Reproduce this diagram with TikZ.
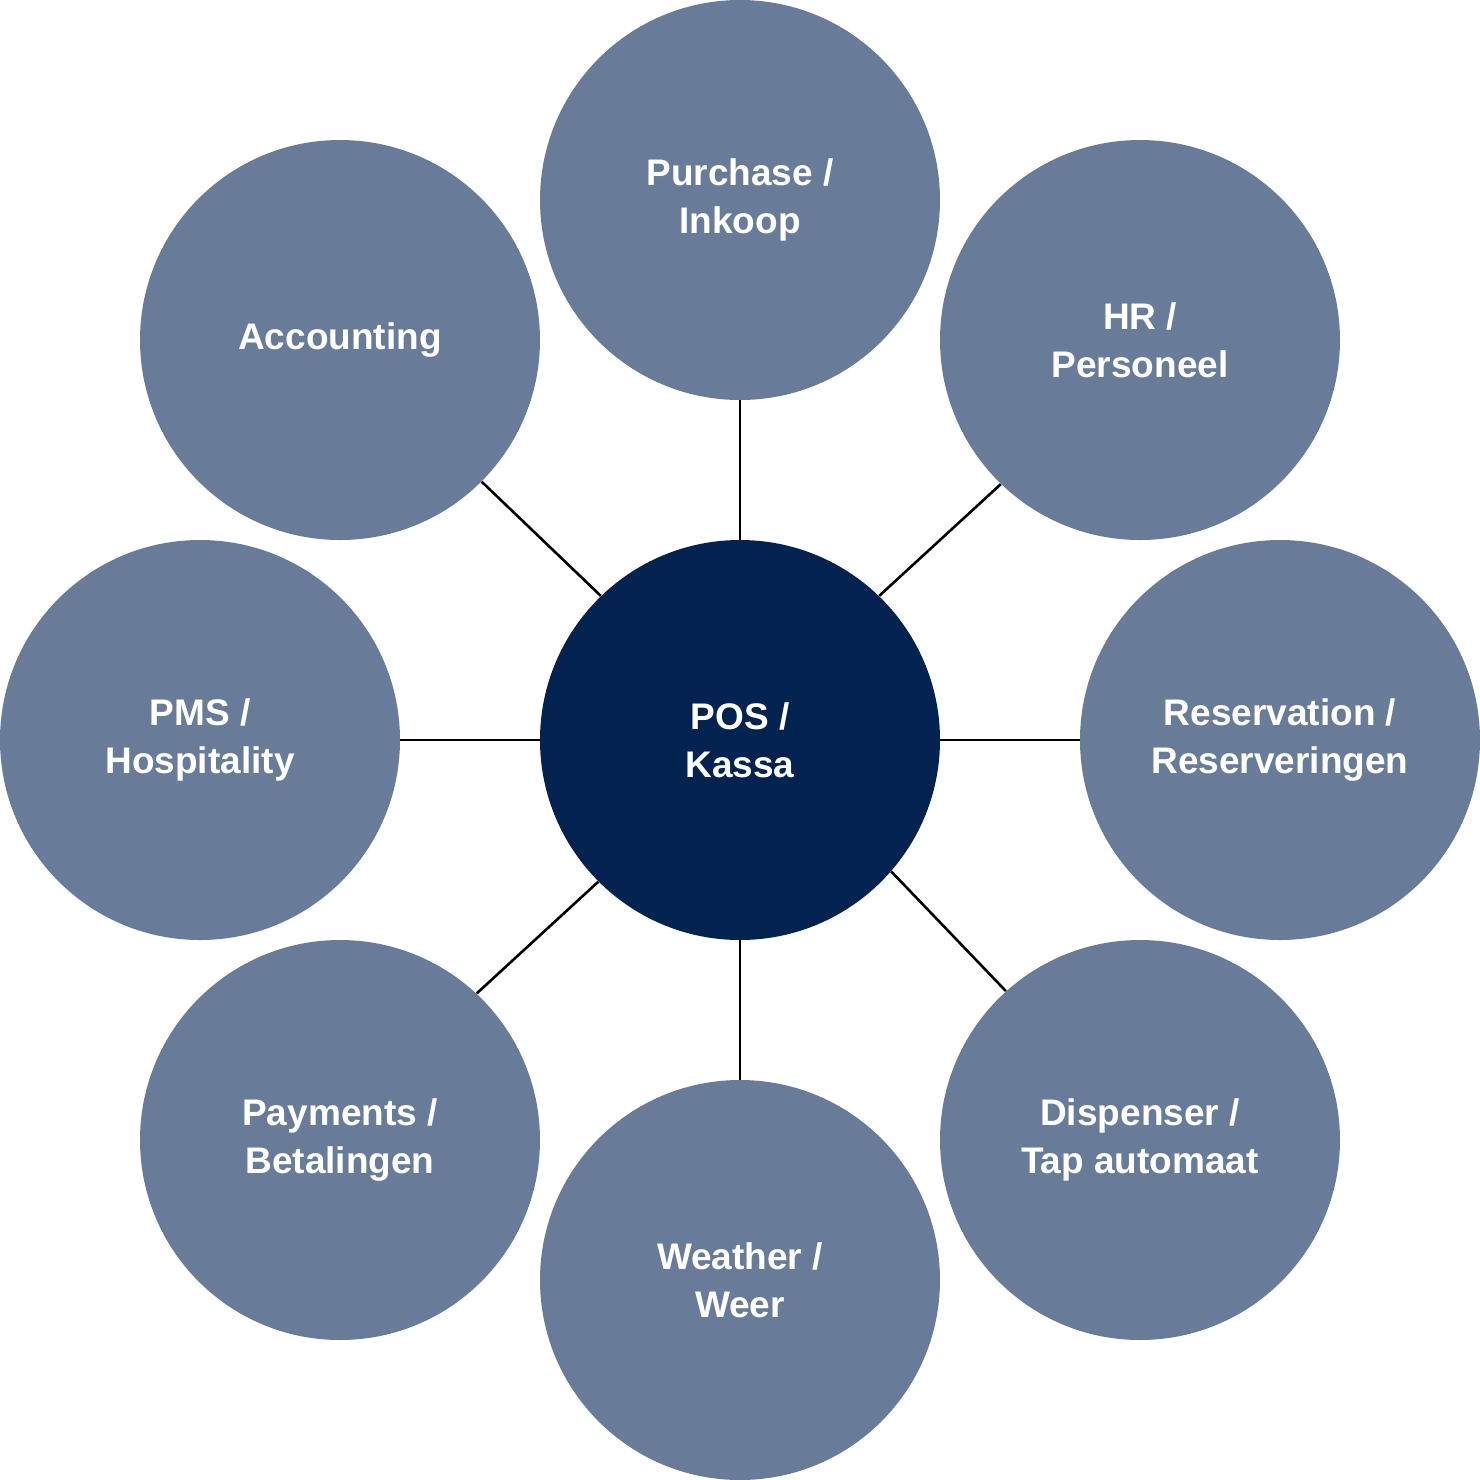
\documentclass[tikz,border=0pt]{standalone}
\usepackage{fontspec}
\setmainfont{Liberation Sans}
\definecolor{outerc}{HTML}{687B98}
\definecolor{innerc}{HTML}{02234F}
\begin{document}
\begin{tikzpicture}[x=0.5pt,y=-0.5pt,
  bubble/.style={circle,fill=outerc,minimum size=200pt,inner sep=0pt,text=white,
    font=\fontsize{18.5pt}{24pt}\selectfont\bfseries,align=center},
  hub/.style={bubble,fill=innerc},
  link/.style={draw=black,line width=1.3pt}]
\useasboundingbox (0,0) rectangle (1480,1480);
\node[hub] (pos) at (740,740) {POS /\\Kassa};
\node[bubble] (pur) at (740,200) {Purchase /\\Inkoop};
\node[bubble] (hr) at (1140,340) {HR /\\Personeel};
\node[bubble] (res) at (1280,740) {Reservation /\\Reserveringen};
\node[bubble] (dis) at (1140,1140) {Dispenser /\\Tap automaat};
\node[bubble] (wea) at (740,1280) {Weather /\\Weer};
\node[bubble] (pay) at (340,1140) {Payments /\\Betalingen};
\node[bubble] (pms) at (200,740) {PMS /\\Hospitality};
\node[bubble] (acc) at (340,340) {Accounting};
\draw[link] (pos.90) -- (pur.270);
\draw[link] (pos.46) -- (hr.226.5);
\draw[link] (pos.0) -- (res.180);
\draw[link] (pos.-41.3) -- (dis.132);
\draw[link] (pos.270) -- (wea.90);
\draw[link] (pos.225.4) -- (pay.47);
\draw[link] (pos.180) -- (pms.0);
\draw[link] (pos.134.4) -- (acc.315.6);
\end{tikzpicture}
\end{document}
